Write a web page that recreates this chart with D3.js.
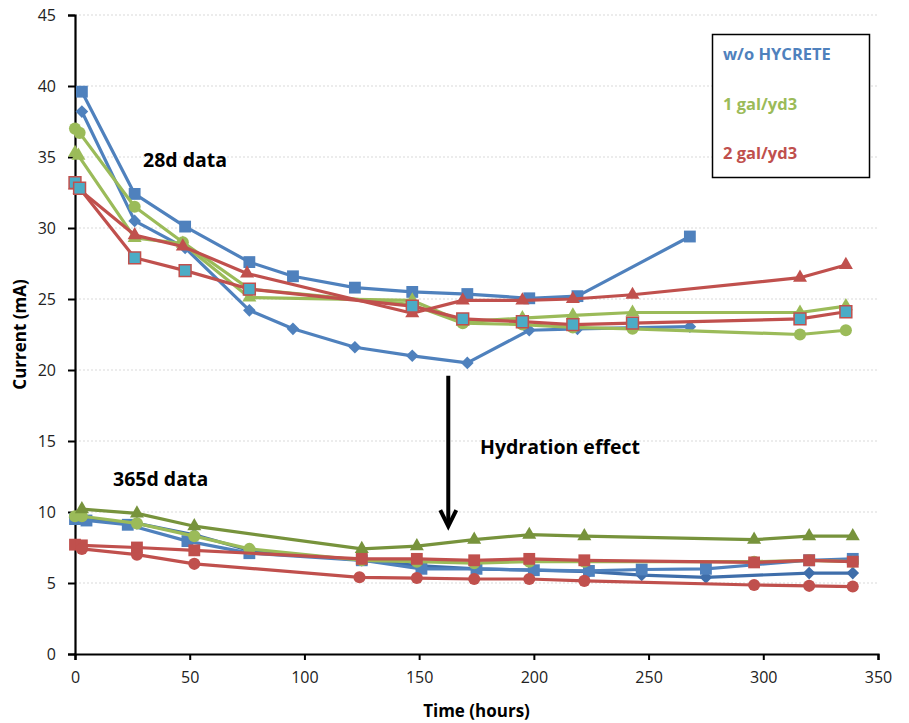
<!DOCTYPE html>
<html><head><meta charset="utf-8">
<script src="https://cdn.jsdelivr.net/npm/d3@7"></script>
<style>body{margin:0;background:#fff} text{font-family:"Open Sans",sans-serif}</style>
</head><body><svg id="c" width="909" height="723"></svg>
<script>
// ---------- data ----------
const xTicks = [0, 50, 100, 150, 200, 250, 300, 350];
const yTicks = [0, 5, 10, 15, 20, 25, 30, 35, 40, 45];
const legendLabels = ["w/o HYCRETE", "1 gal/yd3", "2 gal/yd3"];
const annotations = ["28d data", "365d data", "Hydration effect"];
const arrowFrom = [162.7, 19.6];
const arrowTo = [162.7, 9.0];

// 28-day series [hours, mA]
const d28_noHyc_square = [[3,39.6],[26,32.4],[48,30.1],[76,27.6],[95,26.6],[122,25.8],[147,25.5],[171,25.35],[198,25.05],[219,25.2],[268,29.4]];
const d28_noHyc_diamond = [[3,38.2],[26,30.5],[48,28.6],[76,24.2],[95,22.9],[122,21.6],[147,21.0],[171,20.5],[198,22.8],[219,22.9],[268,23.05]];
const d28_1gal_circle = [[0,37.0],[2,36.7],[26,31.5],[47,29.0],[76,25.7],[147,24.6],[169,23.3],[195,23.2],[217,23.0],[243,22.9],[316,22.5],[336,22.8]];
const d28_1gal_triangle = [[0,35.3],[1.5,35.1],[26,29.3],[47,28.9],[76,25.1],[147,24.9],[169,23.4],[195,23.65],[217,23.85],[243,24.05],[316,24.05],[336,24.5]];
const d28_2gal_triangle = [[0,33.0],[2,32.7],[26,29.5],[47,28.7],[75,26.8],[147,24.0],[169,24.9],[195,24.9],[217,25.0],[243,25.3],[316,26.5],[336,27.4]];
const d28_2gal_square = [[0,33.2],[2,32.8],[26,27.9],[48,27.0],[76,25.7],[147,24.5],[169,23.6],[195,23.4],[217,23.2],[243,23.3],[316,23.6],[336,24.1]];

// 365-day series [hours, mA]
const d365_noHyc_diamond = [[0,9.6],[3,9.5],[27,9.2],[52,8.4],[76,7.3],[125,6.6],[151,6.2],[175,6.0],[200,5.9],[224,5.8],[247,5.56],[275,5.4],[320,5.7],[339,5.7]];
const d365_noHyc_square = [[0,9.5],[5,9.4],[23,9.1],[49,7.95],[76,7.1],[125,6.6],[151,6.0],[175,6.0],[200,5.9],[224,5.85],[247,5.95],[275,6.0],[320,6.6],[339,6.7]];
const d365_1gal_circle = [[0,9.7],[3,9.7],[27,9.2],[52,8.3],[76,7.4],[125,6.6],[149,6.5],[174,6.4],[198,6.5],[222,6.5],[296,6.5],[320,6.6],[339,6.5]];
const d365_1gal_triangle = [[3,10.2],[27,9.9],[52,9.0],[125,7.4],[149,7.6],[174,8.05],[198,8.4],[222,8.3],[296,8.05],[320,8.3],[339,8.3]];
const d365_2gal_square = [[0,7.7],[3,7.65],[27,7.5],[52,7.3],[125,6.7],[149,6.7],[174,6.6],[198,6.7],[222,6.6],[296,6.45],[320,6.6],[339,6.5]];
const d365_2gal_circle = [[3,7.4],[27,7.0],[52,6.35],[124,5.4],[149,5.35],[174,5.28],[198,5.28],[222,5.15],[296,4.86],[320,4.8],[339,4.75]];

// ---------- styles ----------
const BLUE = "#4F81BD", DBLUE = "#3F6EAA", GREEN = "#9BBB59", OLIVE = "#77933C", RED = "#C0504D", TEAL = "#4BACC6";
const series = [
  {data: d365_noHyc_diamond, color: DBLUE, fill: DBLUE, stroke: null, shape: "diamond"},
  {data: d365_noHyc_square, color: BLUE, fill: BLUE, stroke: null, shape: "square"},
  {data: d365_1gal_circle, color: GREEN, fill: GREEN, stroke: null, shape: "circle"},
  {data: d365_1gal_triangle, color: OLIVE, fill: OLIVE, stroke: null, shape: "triangle"},
  {data: d365_2gal_square, color: RED, fill: RED, stroke: null, shape: "square"},
  {data: d365_2gal_circle, color: RED, fill: RED, stroke: null, shape: "circle"},
  {data: d28_noHyc_diamond, color: BLUE, fill: BLUE, stroke: null, shape: "diamond"},
  {data: d28_noHyc_square, color: BLUE, fill: BLUE, stroke: null, shape: "square"},
  {data: d28_1gal_circle, color: GREEN, fill: GREEN, stroke: null, shape: "circle"},
  {data: d28_1gal_triangle, color: GREEN, fill: GREEN, stroke: null, shape: "triangle"},
  {data: d28_2gal_triangle, color: RED, fill: RED, stroke: null, shape: "triangle"},
  {data: d28_2gal_square, color: RED, fill: TEAL, stroke: RED, shape: "square"}
];

const W = 909, H = 723;
const m = {left: 75, right: 31, top: 15, bottom: 69};
const svg = d3.select("#c");
svg.append("rect").attr("width", W).attr("height", H).attr("fill", "#fff");

const x = d3.scaleLinear().domain([0, 350]).range([m.left, W - m.right]);
const y = d3.scaleLinear().domain([0, 45]).range([H - m.bottom, m.top]);

// gridlines
svg.append("g").selectAll("line").data(yTicks.filter(t => t > 0)).join("line")
  .attr("x1", x(0)).attr("x2", x(350)).attr("y1", d => y(d)).attr("y2", d => y(d))
  .attr("stroke", "#D9D9D9").attr("stroke-width", 1).attr("stroke-dasharray", "2,2");

// axes
const yAxis = svg.append("g").attr("transform", `translate(${x(0)},0)`)
  .call(d3.axisLeft(y).tickValues(yTicks).tickSize(7).tickPadding(12).tickFormat(d3.format("d")));
const xAxis = svg.append("g").attr("transform", `translate(0,${y(0)})`)
  .call(d3.axisBottom(x).tickValues(xTicks).tickSize(6).tickPadding(12).tickFormat(d3.format("d")));
[xAxis, yAxis].forEach(g => {
  g.select(".domain").attr("stroke", "#000").attr("stroke-width", 2.2);
  g.selectAll(".tick line").attr("stroke", "#000").attr("stroke-width", 2);
  g.selectAll(".tick text").attr("font-size", 16).attr("fill", "#222").attr("font-family", "Open Sans");
});

// axis titles
svg.append("text").attr("x", (x(0) + x(350)) / 2).attr("y", 717).attr("text-anchor", "middle")
  .attr("font-size", 17).attr("font-weight", "bold").text("Time (hours)");
svg.append("text").attr("transform", `translate(26,${(y(0) + y(45)) / 2}) rotate(-90)`).attr("text-anchor", "middle")
  .attr("font-size", 17).attr("font-weight", "bold").text("Current (mA)");

// series
const line = d3.line().x(d => x(d[0])).y(d => y(d[1]));
const symbols = {
  square: d3.symbol().type(d3.symbolSquare).size(140),
  circle: d3.symbol().type(d3.symbolCircle).size(115),
  triangle: d3.symbol().type(d3.symbolTriangle).size(85),
  diamond: d3.symbol().type(d3.symbolSquare).size(80)
};
series.forEach(s => {
  const g = svg.append("g");
  g.append("path").attr("d", line(s.data)).attr("fill", "none").attr("stroke", s.color)
    .attr("stroke-width", 3.2).attr("stroke-linejoin", "round");
  g.selectAll("path.m").data(s.data).join("path").attr("class", "m")
    .attr("d", symbols[s.shape]())
    .attr("transform", d => `translate(${x(d[0])},${y(d[1])})` + (s.shape === "diamond" ? " rotate(45)" : ""))
    .attr("fill", s.fill).attr("stroke", s.stroke || "none").attr("stroke-width", s.stroke ? 1.5 : 0);
});

// annotations
svg.append("text").attr("x", 143).attr("y", 167).attr("font-size", 19.5).attr("font-weight", "bold").text(annotations[0]);
svg.append("text").attr("x", 113).attr("y", 486).attr("font-size", 19.5).attr("font-weight", "bold").text(annotations[1]);
svg.append("text").attr("x", 480).attr("y", 454).attr("font-size", 19.5).attr("font-weight", "bold").text(annotations[2]);

// arrow
const ax = x(arrowFrom[0]), ay1 = y(arrowFrom[1]), ay2 = y(arrowTo[1]);
svg.append("line").attr("x1", ax).attr("x2", ax).attr("y1", ay1).attr("y2", ay2 - 2)
  .attr("stroke", "#000").attr("stroke-width", 4);
svg.append("path").attr("d", `M${ax - 8},${ay2 - 16} L${ax},${ay2} L${ax + 8},${ay2 - 16}`)
  .attr("fill", "none").attr("stroke", "#000").attr("stroke-width", 4).attr("stroke-linejoin", "miter");

// legend box
const lg = svg.append("g");
lg.append("rect").attr("x", 712.5).attr("y", 34.5).attr("width", 157).attr("height", 143)
  .attr("fill", "#fff").attr("stroke", "#000").attr("stroke-width", 1.5);
const legColors = [BLUE, GREEN, RED];
lg.selectAll("text").data(legendLabels).join("text")
  .attr("x", 723).attr("y", (d, i) => 60 + i * 49.6)
  .attr("font-size", 16.5).attr("font-weight", "bold").attr("fill", (d, i) => legColors[i]).text(d => d);
</script></body></html>
